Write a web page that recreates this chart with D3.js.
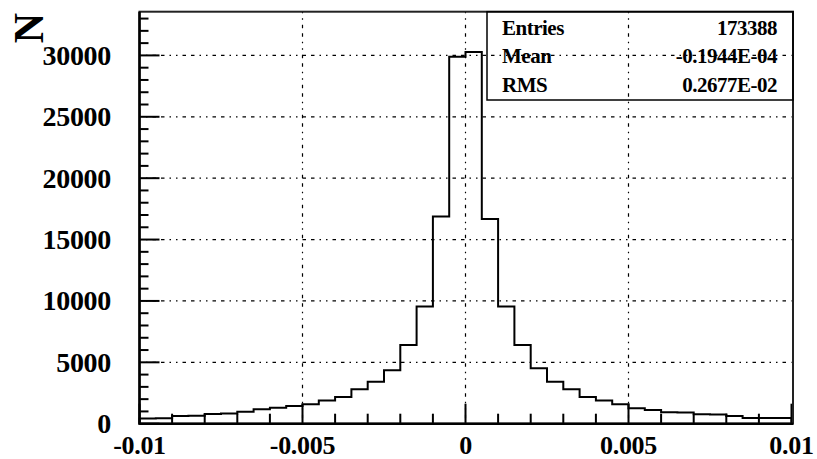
<!DOCTYPE html>
<html>
<head>
<meta charset="utf-8">
<script src="https://cdn.jsdelivr.net/npm/d3@7"></script>
<style>
  html, body { margin: 0; padding: 0; background: #fff; }
  svg { display: block; }
  text { font-family: "Liberation Serif", "Times New Roman", serif; font-weight: bold; fill: #000; }
</style>
</head>
<body>
<svg id="chart" width="817" height="459"></svg>
<script>
// ---- data ----
const binLowEdges = [-0.01, -0.0095, -0.009, -0.0085, -0.008, -0.0075, -0.007, -0.0065, -0.006, -0.0055,
  -0.005, -0.0045, -0.004, -0.0035, -0.003, -0.0025, -0.002, -0.0015, -0.001, -0.0005,
  0, 0.0005, 0.001, 0.0015, 0.002, 0.0025, 0.003, 0.0035, 0.004, 0.0045,
  0.005, 0.0055, 0.006, 0.0065, 0.007, 0.0075, 0.008, 0.0085, 0.009, 0.0095];
const binWidth = 0.0005;
const counts = [430, 450, 620, 640, 800, 830, 980, 1170, 1300, 1450,
  1580, 1880, 2180, 2800, 3420, 4350, 6410, 9540, 16870, 29900,
  30270, 16680, 9540, 6410, 4510, 3420, 2800, 2180, 1880, 1580,
  1250, 1115, 930, 920, 770, 750, 630, 470, 460, 470];
const xTickLabels = ["-0.01", "-0.005", "0", "0.005", "0.01"];
const xTickValues = [-0.01, -0.005, 0, 0.005, 0.01];
const yTickValues = [0, 5000, 10000, 15000, 20000, 25000, 30000];
const yTickLabels = ["0", "5000", "10000", "15000", "20000", "25000", "30000"];
const yAxisTitle = "N";
const statNames = ["Entries", "Mean", "RMS"];
const statValues = ["173388", "-0.1944E-04", "0.2677E-02"];

// ---- layout ----
const svg = d3.select("#chart");
const L = 139.5, R = 791.5, T = 11.7, B = 423.7;
const x = d3.scaleLinear().domain([-0.01, 0.01]).range([L, R]);
const y = d3.scaleLinear().domain([0, 33560]).range([B, T]);

const gridDash = "1.5,5,1.5,5,3.5,5,3.5,5";

// grid lines
svg.append("g").selectAll("line").data(yTickValues.filter(v => v > 0)).join("line")
  .attr("x1", L).attr("x2", R).attr("y1", d => y(d)).attr("y2", d => y(d))
  .attr("stroke", "#000").attr("stroke-width", 1.2).attr("stroke-dasharray", gridDash);
svg.append("g").selectAll("line").data(xTickValues.filter(v => v > -0.01 && v < 0.01)).join("line")
  .attr("x1", d => x(d)).attr("x2", d => x(d)).attr("y1", T).attr("y2", B)
  .attr("stroke", "#000").attr("stroke-width", 1.2).attr("stroke-dasharray", gridDash);

// ticks: x every 0.001, major every 0.005
const xMinor = d3.range(-10, 11).map(i => i * 0.001);
svg.append("g").selectAll("line").data(xMinor).join("line")
  .attr("x1", d => x(d)).attr("x2", d => x(d))
  .attr("y1", B).attr("y2", (d, i) => B - (i % 5 === 0 ? 20 : 10))
  .attr("stroke", "#000").attr("stroke-width", 2);
// y every 1000, major every 5000
const yMinor = d3.range(0, 34).map(i => i * 1000);
svg.append("g").selectAll("line").data(yMinor).join("line")
  .attr("y1", d => y(d)).attr("y2", d => y(d))
  .attr("x1", L).attr("x2", (d, i) => L + (i % 5 === 0 ? 20 : 9))
  .attr("stroke", "#000").attr("stroke-width", 2);

// histogram outline
let p = d3.path();
p.moveTo(x(binLowEdges[0]), y(0));
counts.forEach((c, i) => {
  p.lineTo(x(binLowEdges[i]), y(c));
  p.lineTo(x(binLowEdges[i] + binWidth), y(c));
});
p.lineTo(x(binLowEdges[binLowEdges.length - 1] + binWidth), y(0));
svg.append("path").attr("d", p.toString())
  .attr("fill", "none").attr("stroke", "#000").attr("stroke-width", 2).attr("stroke-linejoin", "miter");

// frame
svg.append("rect").attr("x", L).attr("y", T).attr("width", R - L + 1.5).attr("height", B - T)
  .attr("fill", "none").attr("stroke", "#222").attr("stroke-width", 2);
svg.append("line").attr("x1", L).attr("x2", L).attr("y1", T).attr("y2", B + 1)
  .attr("stroke", "#000").attr("stroke-width", 2.5);
svg.append("line").attr("x1", L).attr("x2", R + 1.5).attr("y1", B).attr("y2", B)
  .attr("stroke", "#000").attr("stroke-width", 2.5);

// tick labels
svg.append("g").selectAll("text").data(yTickValues).join("text")
  .attr("x", 111).attr("y", d => y(d) + 9.5)
  .attr("text-anchor", "end").attr("font-size", 28).attr("letter-spacing", -0.3)
  .text((d, i) => yTickLabels[i]);
svg.append("g").selectAll("text").data(xTickValues).join("text")
  .attr("x", d => x(d)).attr("y", 453.5)
  .attr("text-anchor", "middle").attr("font-size", 26).attr("letter-spacing", -0.3)
  .text((d, i) => xTickLabels[i]);

// y title
svg.append("text").attr("transform", "translate(43,13) rotate(-90)")
  .attr("text-anchor", "end").attr("font-size", 42).text(yAxisTitle);

// stats box
const bx = 487, by = T, bw = R + 1.5 - 487, bh = 100 - T;
svg.append("rect").attr("x", bx).attr("y", by).attr("width", bw).attr("height", bh)
  .attr("fill", "none").attr("stroke", "#000").attr("stroke-width", 1.5);
const rowBase = [34.5, 63, 92];
svg.append("g").selectAll("text").data(statNames).join("text")
  .attr("x", 502).attr("y", (d, i) => rowBase[i]).attr("font-size", 21).attr("letter-spacing", -0.5)
  .text(d => d);
svg.append("g").selectAll("text").data(statValues).join("text")
  .attr("x", 777).attr("y", (d, i) => rowBase[i]).attr("text-anchor", "end").attr("font-size", 21)
  .attr("letter-spacing", -0.5)
  .text(d => d);
</script>
</body>
</html>
